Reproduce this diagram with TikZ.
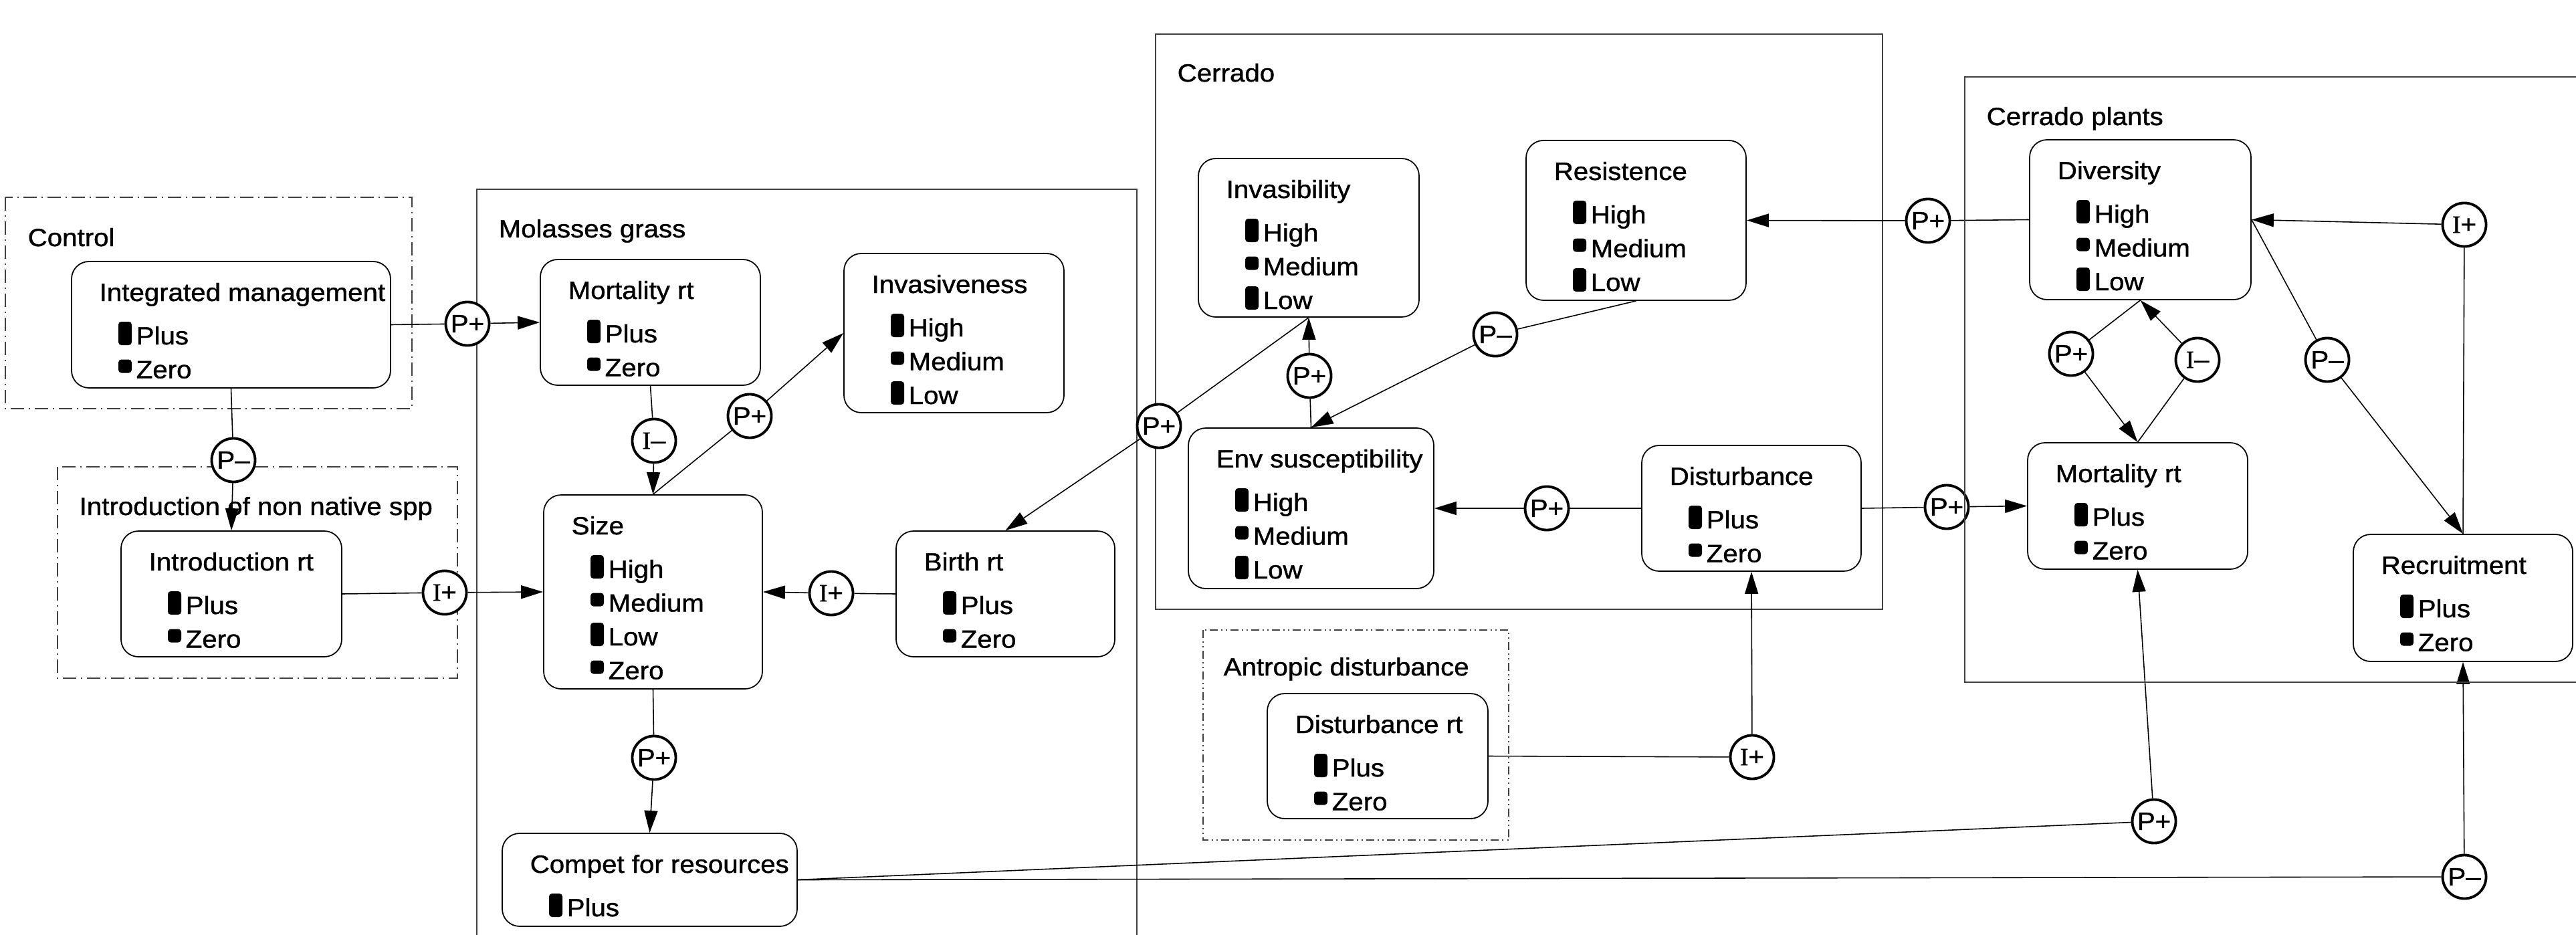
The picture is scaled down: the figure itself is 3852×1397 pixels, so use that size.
\documentclass[tikz,border=0pt]{standalone}
\usepackage{fontspec}
\setmainfont{Liberation Sans}[FakeStretch=1.08,FakeBold=1.2]
\newfontfamily\serifI{Liberation Serif}[FakeBold=1.2]
\usetikzlibrary{arrows.meta,fit}
\newcommand\dfont{\fontsize{10.6pt}{12pt}\selectfont}
\tikzset{
  qn/.style={draw, rounded corners=0.26cm, inner sep=0pt, line width=0.5pt},
  txt/.style={font=\dfont, inner sep=0pt, anchor=base west},
  cc/.style={circle, draw, fill=white, line width=1.1pt, minimum size=0.65cm, inner sep=0pt, font=\dfont},
  con/.style={line width=0.45pt},
  arr/.style={con, -{Triangle[length=3.3mm,width=2mm]}},
  grp/.style={line width=0.6pt, draw=black!75},
  dgrp/.style={line width=0.5pt, draw=black!75, dash pattern=on 0.2cm off 0.07cm on 0.02cm off 0.07cm},
  ddgrp/.style={line width=0.5pt, draw=black!75, dash pattern=on 0.12cm off 0.05cm on 0.02cm off 0.05cm on 0.02cm off 0.05cm},
}
\newcommand\mkT[4]{%
  \fill[rounded corners=0.045cm] ({#2-1},{#3+1}) rectangle ({#2+19},{#3-34});
  \node[txt] (#1) at ({#2+25},#3) {#4};
}
\newcommand\mkS[4]{%
  \fill[rounded corners=0.045cm] ({#2-1},{#3-8}) rectangle ({#2+19},{#3-28});
  \node[txt] (#1) at ({#2+25},#3) {#4};
}
\newcommand\qbox[7]{%
  \node[qn, fit={(#2,#3) (#4,#5)}] (#1) {};
  \node[txt] (#1-t) at ({#2+41},{#3+59}) {#6};
  \foreach \k/\s [count=\i] in {#7} {
    \pgfmathsetmacro\yb{#3+124+(\i-1)*50.5}
    \pgfmathsetmacro\xm{#2+71}
    \csname mk\k\endcsname{#1-\i}{\xm}{\yb}{\s}
  }
}
\newcommand\IL{{\serifI I}}
\begin{document}
\begin{tikzpicture}[x=0.01cm, y=-0.01cm]
\useasboundingbox (0,0) rectangle (3852,1397);
% groups under circles
\draw[grp] (1728,51) rectangle (2815,911);
\draw[grp] (713,283) rectangle (1700,1460);
\draw[dgrp] (8,295) rectangle (616,611);
\draw[dgrp] (86,698) rectangle (684,1014);
\draw[ddgrp] (1799,942) rectangle (2256,1256);
\node[txt] (gControl) at (41,368) {Control};
\node[txt] (gIntro) at (118,770) {Introduction of non native spp};
\node[txt] (gMol) at (745,355) {Molasses grass};
\node[txt] (gCer) at (1760,122) {Cerrado};
\node[txt] (gAnt) at (1829,1010) {Antropic disturbance};
\node[txt] (gCP) at (2970,187) {Cerrado plants};
% quantities
\qbox{im}{107}{391}{584}{580}{Integrated management}{T/Plus,S/Zero}
\qbox{intro}{181}{794}{511}{982}{Introduction rt}{T/Plus,S/Zero}
\qbox{mortm}{808}{388}{1137}{576}{Mortality rt}{T/Plus,S/Zero}
\qbox{invs}{1262}{379}{1591}{617}{Invasiveness}{T/High,S/Medium,T/Low}
\qbox{size}{813}{740}{1140}{1030}{Size}{T/High,S/Medium,T/Low,S/Zero}
\qbox{birth}{1340}{794}{1667}{982}{Birth rt}{T/Plus,S/Zero}
\qbox{comp}{751}{1246}{1192}{1385}{Compet for resources}{T/Plus}
\qbox{invb}{1792}{237}{2122}{474}{Invasibility}{T/High,S/Medium,T/Low}
\qbox{res}{2282}{210}{2611}{449}{Resistence}{T/High,S/Medium,T/Low}
\qbox{env}{1777}{640}{2144}{880}{Env susceptibility}{T/High,S/Medium,T/Low}
\qbox{dist}{2455}{666}{2783}{854}{Disturbance}{T/Plus,S/Zero}
\qbox{drt}{1895}{1037}{2225}{1224}{Disturbance rt}{T/Plus,S/Zero}
\qbox{div}{3035}{209}{3366}{448}{Diversity}{T/High,S/Medium,T/Low}
\qbox{mortc}{3032}{662}{3361}{851}{Mortality rt}{T/Plus,S/Zero}
\qbox{rec}{3519}{799}{3847}{989}{Recruitment}{T/Plus,S/Zero}
% influence circles
\node[cc] (c1) at (699,484) {P+};
\node[cc] (c2) at (349,688) {P--};
\node[cc] (c3) at (665,886) {\IL+};
\node[cc] (c4) at (978,659) {\IL--};
\node[cc] (c5) at (1121,622) {P+};
\node[cc] (c6) at (1243,887) {\IL+};
\node[cc] (c7) at (978,1133) {P+};
\node[cc] (c8) at (1733,637) {P+};
\node[cc] (c9) at (1958,562) {P+};
\node[cc] (c10) at (2236,500) {P--};
\node[cc] (c11) at (2313,760) {P+};
\node[cc] (c12) at (2620,1132) {\IL+};
\node[cc] (c13) at (2883,330) {P+};
\node[cc] (c14) at (2911,758) {P+};
\node[cc] (c15) at (3097,529) {P+};
\node[cc] (c16) at (3286,538) {\IL--};
\node[cc] (c17) at (3480,538) {P--};
\node[cc] (c18) at (3685,336) {\IL+};
\node[cc] (c19) at (3221,1228) {P+};
\node[cc] (c20) at (3685,1311) {P--};
% connectors
\draw[con] (im.east) -- (c1); \draw[arr] (c1) -- (mortm.west);
\draw[con] (im.south) -- (c2); \draw[arr] (c2) -- (intro.north);
\draw[con] (intro.east) -- (c3); \draw[arr] (c3) -- (size.west);
\draw[con] (mortm.south) -- (c4); \draw[arr] (c4) -- (size.north);
\draw[con] (size.north) -- (c5); \draw[arr] (c5) -- (invs.west);
\draw[con] (birth.west) -- (c6); \draw[arr] (c6) -- (size.east);
\draw[con] (size.south) -- (c7); \draw[arr] (c7) -- (comp.north);
\draw[con] (invb.south) -- (c8); \draw[arr] (c8) -- (birth.north);
\draw[con] (env.north) -- (c9); \draw[arr] (c9) -- (invb.south);
\draw[con] (res.south) -- (c10); \draw[arr] (c10) -- (env.north);
\draw[con] (dist.west) -- (c11); \draw[arr] (c11) -- (env.east);
\draw[con] (drt.east) -- (c12); \draw[arr] (c12) -- (dist.south);
\draw[con] (div.west) -- (c13); \draw[arr] (c13) -- (res.east);
\draw[con] (dist.east) -- (c14); \draw[arr] (c14) -- (mortc.west);
\draw[con] (div.south) -- (c15); \draw[arr] (c15) -- (mortc.north);
\draw[con] (mortc.north) -- (c16); \draw[arr] (c16) -- (div.south);
\draw[con] (div.east) -- (c17); \draw[arr] (c17) -- (rec.north);
\draw[con] (rec.north) -- (c18); \draw[arr] (c18) -- (div.east);
\draw[con] (comp.east) -- (c19); \draw[arr] (c19) -- (mortc.south);
\draw[con] (comp.east) -- (c20); \draw[arr] (c20) -- (rec.south);
% group drawn over circles
\draw[grp] (3900,115) -- (2938,115) -- (2938,1020) -- (3900,1020);
\end{tikzpicture}
\end{document}
